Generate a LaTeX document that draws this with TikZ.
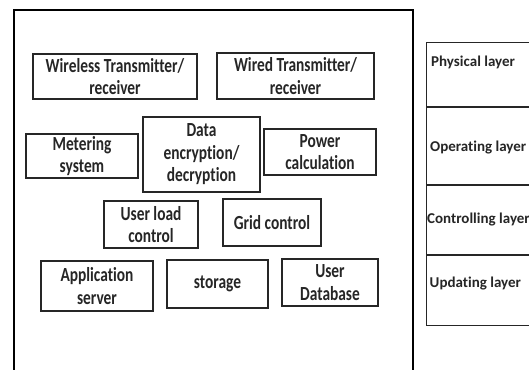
\documentclass[tikz,border=0pt]{standalone}
\usepackage{fontspec}
\setmainfont{Carlito}[Ligatures=NoCommon]
\newfontfamily\boxfont{Carlito}[FakeStretch=0.77,Ligatures=NoCommon]
\begin{document}
\begin{tikzpicture}[x=1pt,y=-1pt,
  box/.style={draw=black!85, line width=1.3pt, inner sep=0pt, align=center,
    font=\boxfont\bfseries\fontsize{20}{22.5}\selectfont, text=black!85},
  cell/.style={draw=black!85, line width=1.1pt, inner sep=0pt, minimum width=112pt},
  lay/.style={font=\bfseries\fontsize{15}{18}\selectfont, text=black!85, inner sep=0pt, anchor=west}]
\useasboundingbox (0,0) rectangle (529,369);
\fill[white] (0,0) rectangle (529,369);
% outer frame
\node[draw=black, line width=2.4pt, inner sep=0pt, minimum width=399pt, minimum height=380pt] (frame) at (213.5,200) {};
% component boxes
\node[box, minimum width=164pt, minimum height=45pt] (wireless) at (115,76.5) {Wireless Transmitter/\\receiver};
\node[box, minimum width=157pt, minimum height=46pt] (wired) at (295.5,76) {Wired Transmitter/\\receiver};
\node[box, minimum width=112pt, minimum height=44pt] (meter) at (82,156) {Metering\\system};
\node[box, minimum width=117pt, minimum height=75pt] (data) at (201.5,154.5) {Data\\encryption/\\decryption};
\node[box, minimum width=112pt, minimum height=46pt] (power) at (320,152) {Power\\calculation};
\node[box, minimum width=94pt, minimum height=47pt] (userload) at (151,224.5) {User load\\control};
\node[box, minimum width=98pt, minimum height=47pt] (grid) at (272,222.5) {Grid control};
\node[box, minimum width=112pt, minimum height=50pt] (app) at (97,286) {Application\\server};
\node[box, minimum width=101pt, minimum height=48pt] (storage) at (217.5,284) {storage};
\node[box, minimum width=96pt, minimum height=47pt] (userdb) at (330,282.5) {User\\Database};
% layer table
\node[cell, minimum height=64pt, anchor=north west] (phys) at (426,42) {};
\node[cell, minimum height=77pt, anchor=north west] (oper) at (phys.south west) {};
\node[cell, minimum height=69pt, anchor=north west] (ctrl) at (oper.south west) {};
\node[cell, minimum height=70pt, anchor=north west] (upd) at (ctrl.south west) {};
\node[lay] (tphys) at (431,62) {Physical layer};
\node[lay] (toper) at (430,148) {Operating layer};
\node[lay] (tctrl) at (427,220) {Controlling layer};
\node[lay] (tupd) at (429.5,284) {Updating layer};
\end{tikzpicture}
\end{document}
